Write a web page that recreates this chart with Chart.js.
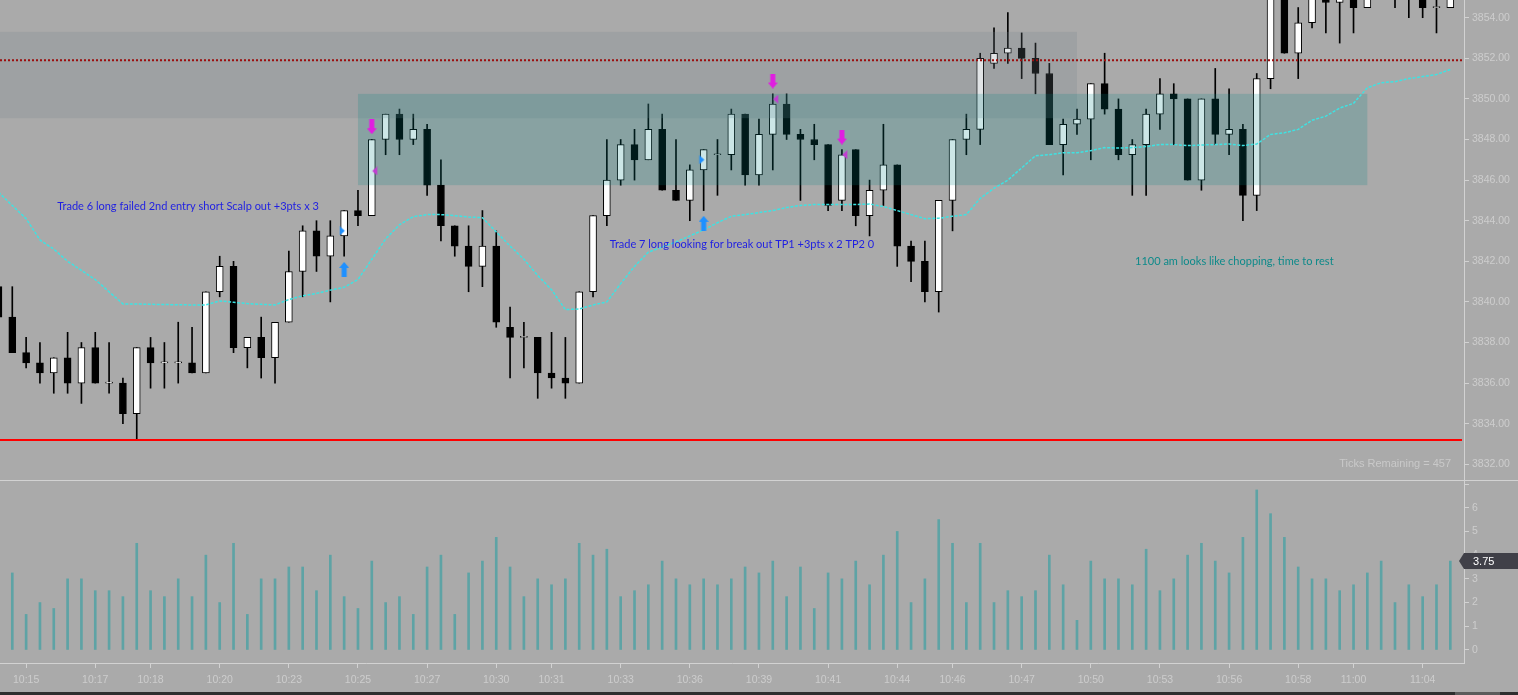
<!DOCTYPE html>
<html>
<head>
<meta charset="utf-8">
<title>ES tick chart - trades 6 and 7</title>
<script src="https://cdn.jsdelivr.net/npm/chart.js@4.4.1/dist/chart.umd.min.js"></script>
<style>
  html, body { margin: 0; padding: 0; background: #aaaaaa; overflow: hidden; }
  #wrap { position: relative; width: 1518px; height: 695px; }
  #priceChart { position: absolute; left: 0; top: 0; }
  #volumeChart { position: absolute; left: 0; top: 480px; }
  #scrollBar { position: absolute; left: 0; top: 692px; width: 1518px; height: 3px; background: #2e2e2e; }
  #scrollThumb { position: absolute; left: 1455px; top: 0; width: 45px; height: 3px; background: #5c5c5c; }
</style>
</head>
<body>
<div id="wrap">
  <canvas id="priceChart" width="1518" height="480"></canvas>
  <canvas id="volumeChart" width="1518" height="212"></canvas>
  <div id="scrollBar"><div id="scrollThumb"></div></div>
</div>
<script>
// ---- data (one entry per tick bar) ----
const candleOpen = [
  3840.75, 3839.25, 3837.5, 3837, 3836.5, 3837.25, 3836, 3837.75, 3836, 3836,
  3834.5, 3837.75, 3837, 3837, 3837, 3836.5, 3840.5, 3841.75, 3837.75, 3838.25,
  3837.25, 3839, 3841.5, 3843.5, 3842.25, 3843.25, 3844.5, 3844.25, 3848, 3849.25,
  3848, 3848.5, 3845.75, 3843.75, 3842.75, 3841.75, 3842.75, 3838.75, 3838.25, 3838.25,
  3836.5, 3836.25, 3836, 3840.5, 3844.25, 3846, 3847.75, 3847, 3848.5, 3845.5,
  3845, 3846.5, 3847.25, 3847.25, 3849.25, 3846.25, 3848.25, 3849.75, 3848.25, 3848,
  3847.75, 3845, 3847.5, 3844.25, 3845.5, 3846.75, 3842.75, 3842, 3840.5, 3845,
  3848, 3848.5, 3851.75, 3852.25, 3852.5, 3852, 3851.25, 3847.75, 3848.75, 3849,
  3850.75, 3849.5, 3847.25, 3847.75, 3849.25, 3850.25, 3850, 3846, 3850, 3848.25,
  3848.5, 3845.25, 3851, 3856.25, 3852.25, 3853.75, 3855.5, 3854.75, 3855.5, 3854.5,
  3855.75, 3856, 3855.5, 3855.25, 3854.5, 3854.5
];
const candleHigh = [
  3840.75, 3840.75, 3838.25, 3838, 3837.25, 3838.5, 3838, 3838.5, 3838, 3836.25,
  3837.75, 3838.25, 3838, 3839, 3838.75, 3840.5, 3842.25, 3842, 3838.25, 3839.25,
  3839, 3842.5, 3843.75, 3844, 3844, 3844.5, 3845.5, 3848, 3849.25, 3849.5,
  3849.25, 3848.75, 3847, 3843.75, 3843.75, 3844.5, 3843.5, 3839.75, 3839, 3838.25,
  3838.5, 3838.25, 3840.5, 3844.25, 3848, 3848, 3848.5, 3849.75, 3849.25, 3848,
  3846.75, 3847.5, 3848, 3849.5, 3849.25, 3849, 3850.25, 3850.25, 3848.5, 3848.75,
  3847.75, 3847.5, 3847.5, 3846, 3848.75, 3846.75, 3843, 3843, 3845, 3848,
  3849.25, 3852.25, 3853.5, 3854.25, 3853.25, 3852.75, 3851.75, 3849, 3849.5, 3850.75,
  3852.25, 3850, 3848, 3849.5, 3851, 3850.75, 3850, 3850, 3851.5, 3850.5,
  3848.75, 3851.25, 3856.5, 3856.5, 3854.5, 3856, 3856, 3856.25, 3856, 3856,
  3856.5, 3856.5, 3856, 3855.75, 3855.5, 3856
];
const candleLow = [
  3839.25, 3837.5, 3836.75, 3836, 3835.5, 3835.5, 3835, 3836, 3835.5, 3834,
  3833.25, 3835.75, 3835.75, 3836, 3836.5, 3836.5, 3840.25, 3837.5, 3836.75, 3836.25,
  3836, 3839, 3840.25, 3841.5, 3840, 3842.25, 3843.75, 3844.25, 3847.25, 3847.25,
  3847.75, 3845.25, 3843, 3842.25, 3840.5, 3840.75, 3838.75, 3836.25, 3836.75, 3835.25,
  3835.75, 3835.25, 3836, 3840.25, 3843.75, 3845.75, 3846, 3847, 3845.5, 3845,
  3844, 3844.5, 3845.25, 3846.5, 3845.75, 3845.75, 3846.5, 3848, 3845, 3847,
  3844.5, 3844.5, 3843.75, 3843.25, 3844.75, 3841.75, 3841, 3840, 3839.5, 3843.5,
  3847.25, 3847.75, 3851.5, 3851.75, 3851, 3850.25, 3847.75, 3846.25, 3848.25, 3847,
  3849.25, 3847, 3845.25, 3845.25, 3848.5, 3847.75, 3846, 3845.5, 3847.75, 3847.25,
  3844, 3844.5, 3850.5, 3852.25, 3851, 3853.5, 3853.25, 3852.75, 3853.25, 3854.5,
  3855, 3854.5, 3854, 3854, 3853.25, 3854.5
];
const candleClose = [
  3839.25, 3837.5, 3837, 3836.5, 3837.25, 3836, 3837.75, 3836, 3836, 3834.5,
  3837.75, 3837, 3837, 3837, 3836.5, 3840.5, 3841.75, 3837.75, 3838.25, 3837.25,
  3839, 3841.5, 3843.5, 3842.25, 3843.25, 3844.5, 3844.25, 3848, 3849.25, 3848,
  3848.5, 3845.75, 3843.75, 3842.75, 3841.75, 3842.75, 3839, 3838.25, 3838.25, 3836.5,
  3836.25, 3836, 3840.5, 3844.25, 3846, 3847.75, 3847, 3848.5, 3845.5, 3845,
  3846.5, 3847.5, 3847.25, 3849.25, 3846.25, 3848.25, 3849.75, 3848.25, 3848, 3847.75,
  3844.75, 3847.25, 3844.25, 3845.5, 3846.75, 3842.75, 3842, 3840.5, 3845, 3848,
  3848.5, 3852, 3852.25, 3852.5, 3852, 3851.25, 3847.75, 3848.75, 3849, 3850.75,
  3849.5, 3847.25, 3847.75, 3849.25, 3850.25, 3850, 3846, 3850, 3848.25, 3848.5,
  3845.25, 3851, 3856.25, 3852.25, 3853.75, 3855.75, 3854.75, 3855.5, 3854.5, 3855.75,
  3856, 3855.5, 3855.25, 3854.5, 3854.5, 3855.5
];
// cyan moving average
const emaValues = [
  3845.4, 3844.75, 3844.1, 3843.05, 3842.6, 3842.0, 3841.55, 3841.1, 3840.5, 3839.9,
  3839.9, 3839.88, 3839.87, 3839.86, 3839.85, 3839.85, 3840.05, 3839.98, 3839.92, 3839.88,
  3839.85, 3840.12, 3840.3, 3840.42, 3840.58, 3840.72, 3841.1, 3842.1, 3843.1, 3843.8,
  3844.2, 3844.3, 3844.3, 3844.25, 3844.18, 3844.15, 3843.45, 3842.75, 3842.1, 3841.3,
  3840.6, 3839.62, 3839.65, 3839.85, 3840.0, 3840.9, 3841.75, 3842.45, 3842.7, 3842.95,
  3843.25, 3843.55, 3843.9, 3844.22, 3844.3, 3844.4, 3844.5, 3844.65, 3844.75, 3844.8,
  3844.8, 3844.8, 3844.8, 3844.82, 3844.7, 3844.5, 3844.3, 3844.1, 3844.12, 3844.22,
  3844.3, 3845.1, 3845.6, 3846.0, 3846.6, 3847.2, 3847.25, 3847.35, 3847.35, 3847.45,
  3847.6, 3847.58, 3847.6, 3847.65, 3847.75, 3847.75, 3847.7, 3847.73, 3847.75, 3847.78,
  3847.7, 3847.78, 3848.25, 3848.33, 3848.5, 3848.95, 3849.15, 3849.55, 3849.78, 3850.55,
  3850.8, 3850.85, 3851.0, 3851.1, 3851.2, 3851.45
];
const volumeValues = [
  2.5, 3.25, 1.5, 2, 1.75, 3, 3, 2.5, 2.5, 2.25,
  4.5, 2.5, 2.25, 3, 2.25, 4, 2, 4.5, 1.5, 3,
  3, 3.5, 3.5, 2.5, 4, 2.25, 1.75, 3.75, 2, 2.25,
  1.5, 3.5, 4, 1.5, 3.25, 3.75, 4.75, 3.5, 2.25, 3,
  2.75, 3, 4.5, 4, 4.25, 2.25, 2.5, 2.75, 3.75, 3,
  2.75, 3, 2.75, 3, 3.5, 3.25, 3.75, 2.25, 3.5, 1.75,
  3.25, 3, 3.75, 2.75, 4, 5, 2, 3, 5.5, 4.5,
  2, 4.5, 2, 2.5, 2.25, 2.5, 4, 2.75, 1.25, 3.75,
  3, 3, 2.75, 4.25, 2.5, 3, 4, 4.5, 3.75, 3.25,
  4.75, 6.75, 5.75, 4.75, 3.5, 3, 3, 2.5, 2.75, 3.25,
  3.75, 2, 2.75, 2.25, 2.75, 3.75
];

// time labels sit under these bars
const timeTickIndex = [2, 7, 11, 16, 21, 26, 31, 36, 40, 45, 50, 55, 60, 65, 69, 74, 79, 84, 89, 94, 98, 103];
const timeTickLabels = ['10:15', '10:17', '10:18', '10:20', '10:23', '10:25', '10:27', '10:30', '10:31', '10:33', '10:36',
  '10:39', '10:41', '10:44', '10:46', '10:47', '10:50', '10:53', '10:56', '10:58', '11:00', '11:04'];

// rectangles drawn on the chart (bar index / price)
const zoneFrom = [-5, 26];
const zoneTo = [78, 99];
const zoneHigh = [3853.3, 3850.25];
const zoneLow = [3849.05, 3845.75];

// horizontal lines
const levelPrice = [3851.9, 3833.2];

// trade markers: arrows and execution triangles
const markerIndex = [25, 25, 27, 27, 51, 51, 56, 56, 61, 61];
const markerPrice = [3841.6, 3843.5, 3848.63, 3846.45, 3843.87, 3847.0, 3850.88, 3849.99, 3848.12, 3847.25];
const markerKind = ['longArrow', 'buyFill', 'shortArrow', 'sellFill', 'longArrow', 'buyFill', 'shortArrow', 'sellFill', 'shortArrow', 'sellFill'];

// text notes
const noteText = [
  'Trade 6 long failed 2nd entry short Scalp out +3pts x 3',
  'Trade 7 long looking for break out TP1 +3pts x 2 TP2 0',
  '1100 am looks like chopping, time to rest'
];
const noteIndex = [4.25, 44.2, 82.2];
const notePrice = [3844.69, 3842.85, 3842.01];
const ticksRemaining = 457;

// ---- look ----
const AXIS_COLOR = '#d2d2d2';
const LABEL_COLOR = '#cdcdcd';
const X_MIN = 0.1107;
const X_MAX = 105.99;
const AXIS_WIDTH = 54;

Chart.defaults.font.family = "'Liberation Sans', Arial, sans-serif";
Chart.defaults.font.size = 10.5;
Chart.defaults.animation = false;
Chart.defaults.events = [];
Chart.defaults.plugins.legend.display = false;
Chart.defaults.plugins.tooltip.enabled = false;

const zoneColors = ['rgba(120,130,142,0.22)', 'rgba(0,130,130,0.2)'];
const levelStyles = [
  { color: '#9b0d0d', width: 2, dash: [2, 2] },
  { color: '#ff0000', width: 2, dash: [] }
];
const noteColors = ['#1f1fe2', '#1f1fe2', '#0e8a8a'];

function makeMarker(kind) {
  const c = document.createElement('canvas');
  const g = c.getContext('2d');
  if (kind === 'longArrow' || kind === 'shortArrow') {
    c.width = 10; c.height = 15;
    g.fillStyle = kind === 'longArrow' ? '#1e90ff' : '#e01ee0';
    g.beginPath();
    if (kind === 'longArrow') {
      g.moveTo(5, 0); g.lineTo(10, 6); g.lineTo(7.5, 6); g.lineTo(7.5, 15);
      g.lineTo(2.5, 15); g.lineTo(2.5, 6); g.lineTo(0, 6);
    } else {
      g.moveTo(5, 15); g.lineTo(10, 9); g.lineTo(7.5, 9); g.lineTo(7.5, 0);
      g.lineTo(2.5, 0); g.lineTo(2.5, 9); g.lineTo(0, 9);
    }
    g.closePath();
    g.fill();
  } else {
    // execution triangles sit beside the bar
    c.width = 14; c.height = 9;
    g.fillStyle = kind === 'buyFill' ? '#1e90ff' : '#c23cd2';
    g.beginPath();
    if (kind === 'buyFill') {
      g.moveTo(2.7, 0); g.lineTo(7.7, 4.5); g.lineTo(2.7, 9);
    } else {
      g.moveTo(12.4, 0); g.lineTo(7.4, 4.5); g.lineTo(12.4, 9);
    }
    g.closePath();
    g.fill();
  }
  return c;
}
const markerImages = {};
['longArrow', 'shortArrow', 'buyFill', 'sellFill'].forEach(k => { markerImages[k] = makeMarker(k); });

// ---- datasets ----
const wickData = candleOpen.map((o, i) => ({ x: i, y: [candleLow[i], candleHigh[i]] }));
const bodyData = candleOpen.map((o, i) => ({ x: i, y: [Math.min(o, candleClose[i]), Math.max(o, candleClose[i])] }));
const bodyColors = candleOpen.map((o, i) => candleClose[i] < o ? '#000000' : '#ffffff');
const emaData = emaValues.map((v, i) => ({ x: i, y: v }));
const markerData = markerIndex.map((v, i) => ({ x: v, y: markerPrice[i] }));
const volumeData = volumeValues.map((v, i) => ({ x: i, y: v }));

// zones + levels go on top of the bars, under the average line
const overlayPlugin = {
  id: 'overlays',
  afterDatasetDraw(chart, args) {
    if (args.index !== 1) return;
    const { ctx, chartArea, scales } = chart;
    const x = scales.x, y = scales.y;
    ctx.save();
    ctx.beginPath();
    ctx.rect(chartArea.left, chartArea.top, chartArea.width, chartArea.height);
    ctx.clip();
    zoneFrom.forEach((from, k) => {
      const x1 = x.getPixelForValue(from);
      const x2 = x.getPixelForValue(zoneTo[k]);
      const y1 = y.getPixelForValue(zoneHigh[k]);
      const y2 = y.getPixelForValue(zoneLow[k]);
      ctx.fillStyle = zoneColors[k];
      ctx.fillRect(x1, y1, x2 - x1, y2 - y1);
    });
    levelPrice.forEach((p, k) => {
      const yy = y.getPixelForValue(p);
      ctx.strokeStyle = levelStyles[k].color;
      ctx.lineWidth = levelStyles[k].width;
      ctx.setLineDash(levelStyles[k].dash);
      ctx.beginPath();
      ctx.moveTo(chartArea.left, yy);
      ctx.lineTo(chartArea.right - 2, yy);
      ctx.stroke();
    });
    ctx.restore();
  },
  afterDatasetsDraw(chart) {
    const { ctx, chartArea, scales } = chart;
    ctx.save();
    ctx.textBaseline = 'middle';
    ctx.textAlign = 'left';
    ctx.font = "11px Lato, 'Open Sans', sans-serif";
    noteText.forEach((t, k) => {
      ctx.fillStyle = noteColors[k];
      ctx.fillText(t, scales.x.getPixelForValue(noteIndex[k]), scales.y.getPixelForValue(notePrice[k]));
    });
    ctx.font = "11px 'Liberation Sans', Arial, sans-serif";
    ctx.fillStyle = '#c9c9c9';
    ctx.textAlign = 'right';
    ctx.fillText('Ticks Remaining = ' + ticksRemaining, chartArea.right - 13, chartArea.bottom - 16);
    ctx.restore();
  }
};

function fitRightAxis(scale) {
  scale.width = AXIS_WIDTH;
  scale.paddingTop = 0;
  scale.paddingBottom = 0;
}

const priceChart = new Chart(document.getElementById('priceChart'), {
  type: 'bar',
  data: {
    datasets: [{
      label: 'wicks',
      data: wickData,
      backgroundColor: '#000000',
      borderWidth: 0,
      barThickness: 1,
      maxBarThickness: 1,
      grouped: false,
      clip: 0,
      order: 4
    }, {
      label: 'bodies',
      data: bodyData,
      backgroundColor: bodyColors,
      borderColor: '#000000',
      borderWidth: 1,
      borderSkipped: false,
      barThickness: 7,
      maxBarThickness: 7,
      minBarLength: 1,
      grouped: false,
      clip: 0,
      order: 3
    }, {
      type: 'line',
      label: 'average',
      data: emaData,
      borderColor: '#3fe2e2',
      borderWidth: 1.5,
      borderDash: [3, 1.5],
      pointRadius: 0,
      tension: 0,
      clip: 0,
      order: 2
    }, {
      type: 'line',
      label: 'trades',
      data: markerData,
      showLine: false,
      pointRadius: 5,
      pointStyle: markerKind.map(k => markerImages[k]),
      clip: 0,
      order: 1
    }]
  },
  options: {
    responsive: false,
    layout: { padding: 0, autoPadding: false },
    scales: {
      x: { type: 'linear', display: false, offset: false, min: X_MIN, max: X_MAX },
      y: {
        type: 'linear',
        position: 'right',
        min: 3831.227,
        max: 3854.872,
        ticks: {
          stepSize: 2,
          includeBounds: false,
          padding: 3,
          color: LABEL_COLOR,
          callback: v => v.toFixed(2)
        },
        grid: { drawOnChartArea: false, tickLength: 5, color: AXIS_COLOR },
        border: { color: AXIS_COLOR },
        afterFit: fitRightAxis
      }
    }
  },
  plugins: [overlayPlugin]
});

// volume panel: separator line and last value tag
const volumeDecor = {
  id: 'volumeDecor',
  afterDraw(chart) {
    const { ctx, chartArea, scales, width } = chart;
    const last = volumeValues[volumeValues.length - 1];
    const yy = scales.y.getPixelForValue(last);
    const xl = chartArea.right;
    ctx.save();
    ctx.fillStyle = AXIS_COLOR;
    ctx.fillRect(0, 0, width, 1);
    ctx.fillStyle = '#404048';
    ctx.beginPath();
    ctx.moveTo(xl - 5, yy);
    ctx.lineTo(xl, yy - 8);
    ctx.lineTo(width, yy - 8);
    ctx.lineTo(width, yy + 8);
    ctx.lineTo(xl, yy + 8);
    ctx.closePath();
    ctx.fill();
    ctx.fillStyle = '#ffffff';
    ctx.font = "11px 'Liberation Sans', Arial, sans-serif";
    ctx.textBaseline = 'middle';
    ctx.textAlign = 'left';
    ctx.fillText(last.toFixed(2), xl + 9, yy + 0.5);
    ctx.restore();
  }
};

const volumeChart = new Chart(document.getElementById('volumeChart'), {
  type: 'bar',
  data: {
    datasets: [{
      label: 'volume',
      data: volumeData,
      backgroundColor: '#5ea3a5',
      borderWidth: 0,
      barThickness: 2,
      maxBarThickness: 2,
      clip: 0
    }]
  },
  options: {
    responsive: false,
    layout: { padding: 0, autoPadding: false },
    scales: {
      x: {
        type: 'linear',
        position: 'bottom',
        offset: false,
        min: X_MIN,
        max: X_MAX,
        afterBuildTicks: scale => { scale.ticks = timeTickIndex.map(v => ({ value: v })); },
        ticks: {
          autoSkip: false,
          maxRotation: 0,
          padding: 6,
          color: LABEL_COLOR,
          callback: (v, i) => timeTickLabels[i]
        },
        grid: { drawOnChartArea: false, offset: false, tickLength: 5, color: AXIS_COLOR },
        border: { color: AXIS_COLOR },
        afterFit: scale => { scale.height = 29; scale.paddingLeft = 0; scale.paddingRight = 0; }
      },
      y: {
        type: 'linear',
        position: 'right',
        min: -0.55,
        max: 7.17,
        ticks: {
          stepSize: 1,
          includeBounds: false,
          padding: 3,
          color: LABEL_COLOR,
          callback: v => (v === 7 ? '' : v)
        },
        grid: { drawOnChartArea: false, tickLength: 5, color: AXIS_COLOR },
        border: { color: AXIS_COLOR },
        afterFit: fitRightAxis
      }
    }
  },
  plugins: [volumeDecor]
});
</script>
</body>
</html>
